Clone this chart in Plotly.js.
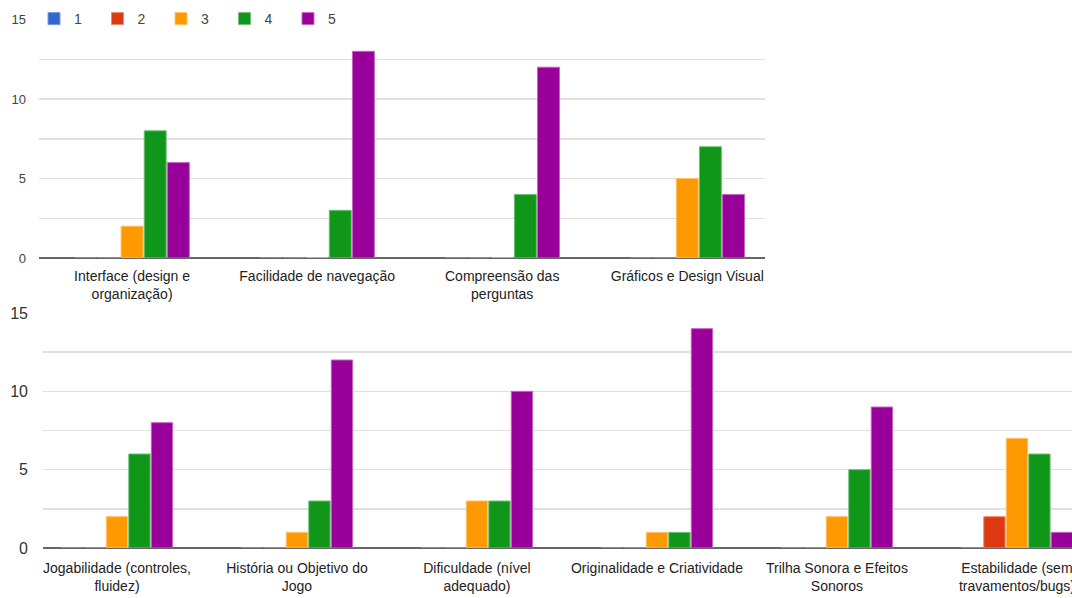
<!DOCTYPE html>
<html>
<head>
<meta charset="utf-8">
<script src="https://cdn.plot.ly/plotly-3.0.1.min.js"></script>
<style>html,body{margin:0;padding:0;background:#fff;}#chart{width:1072px;height:598px;}</style>
</head>
<body>
<div id="chart"></div>
<script>
// ---- data ----
const ratings = ['1', '2', '3', '4', '5'];
const ratingColors = ['#3366cc', '#dc3912', '#ff9900', '#109618', '#990099'];
const ratingLineColors = ['#7a9ae0', '#ec8a72', '#ffc266', '#70c077', '#c566c5'];

const topCategories = [
  'Interface (design e<br>organização)',
  'Facilidade de navegação',
  'Compreensão das<br>perguntas',
  'Gráficos e Design Visual'
];
const topR1 = [0, 0, 0, 0];
const topR2 = [0, 0, 0, 0];
const topR3 = [2, 0, 0, 5];
const topR4 = [8, 3, 4, 7];
const topR5 = [6, 13, 12, 4];

const bottomCategories = [
  'Jogabilidade (controles,<br>fluidez)',
  'História ou Objetivo do<br>Jogo',
  'Dificuldade (nível<br>adequado)',
  'Originalidade e Criatividade',
  'Trilha Sonora e Efeitos<br>Sonoros',
  'Estabilidade (sem<br>travamentos/bugs)'
];
const bottomR1 = [0, 0, 0, 0, 0, 0];
const bottomR2 = [0, 0, 0, 0, 0, 2];
const bottomR3 = [2, 1, 3, 1, 2, 7];
const bottomR4 = [6, 3, 3, 1, 5, 6];
const bottomR5 = [8, 12, 10, 14, 9, 1];

const yTicks = [0, 5, 10, 15];

// ---- build ----
const topSeries = [topR1, topR2, topR3, topR4, topR5];
const bottomSeries = [bottomR1, bottomR2, bottomR3, bottomR4, bottomR5];
const traces = [];
ratings.forEach((r, i) => {
  traces.push({
    type: 'bar', name: r, x: topCategories, y: topSeries[i],
    xaxis: 'x', yaxis: 'y', legendgroup: r, showlegend: true,
    marker: {color: ratingColors[i], line: {color: ratingLineColors[i], width: 1}},
    hoverinfo: 'x+y+name'
  });
});
ratings.forEach((r, i) => {
  traces.push({
    type: 'bar', name: r, x: bottomCategories, y: bottomSeries[i],
    xaxis: 'x2', yaxis: 'y2', legendgroup: r, showlegend: false,
    marker: {color: ratingColors[i], line: {color: ratingLineColors[i], width: 1}},
    hoverinfo: 'x+y+name'
  });
});

const W = 1072, H = 598;
const xFont = {family: '"Liberation Sans", Arial, sans-serif', size: 14, color: '#222'};
const gridCommon = {
  range: [0, 15], tickvals: yTicks, ticktext: yTicks.map(String),
  showgrid: true, gridcolor: '#e0e0e0', gridwidth: 1.5,
  minor: {dtick: 2.5, showgrid: true, gridcolor: '#e0e0e0', gridwidth: 1.5},
  zeroline: true, zerolinecolor: '#666', zerolinewidth: 2,
  showline: false, ticks: '', fixedrange: true
};

const layout = {
  width: W, height: H,
  margin: {l: 0, r: 0, t: 0, b: 0},
  paper_bgcolor: '#fff', plot_bgcolor: 'rgba(0,0,0,0)',
  barmode: 'group', bargap: 0.375, bargroupgap: 0.05,
  showlegend: true,
  legend: {
    orientation: 'h', x: 34 / W, xanchor: 'left', y: 1 - 19 / H, yanchor: 'middle',
    bgcolor: 'rgba(0,0,0,0)', font: {family: '"Liberation Sans", Arial, sans-serif', size: 14, color: '#444'},
    entrywidth: 18.5, entrywidthmode: 'pixels', itemwidth: 30, traceorder: 'normal'
  },
  xaxis: {
    domain: [39 / W, 765 / W], anchor: 'y', type: 'category',
    range: [-0.503, 3.42], showgrid: false, showline: false, ticks: '',
    tickfont: xFont, ticklabelstandoff: 8, fixedrange: true
  },
  yaxis: Object.assign({}, gridCommon, {
    domain: [1 - 258 / H, 1 - 19.5 / H], anchor: 'x',
    tickfont: {family: 'Liberation Sans, Arial, sans-serif', size: 13, color: '#444'},
    ticklabelstandoff: 12
  }),
  xaxis2: {
    domain: [43 / W, 1], anchor: 'y2', type: 'category',
    range: [-0.411, 5.306], showgrid: false, showline: false, ticks: '',
    tickfont: xFont, ticklabelstandoff: 10, fixedrange: true
  },
  yaxis2: Object.assign({}, gridCommon, {
    domain: [1 - 548 / H, 1 - 313 / H], anchor: 'x2',
    tickfont: {family: 'Liberation Sans, Arial, sans-serif', size: 16, color: '#333'},
    ticklabelstandoff: 14
  })
};

Plotly.newPlot('chart', traces, layout, {displayModeBar: false, staticPlot: true});
</script>
</body>
</html>
